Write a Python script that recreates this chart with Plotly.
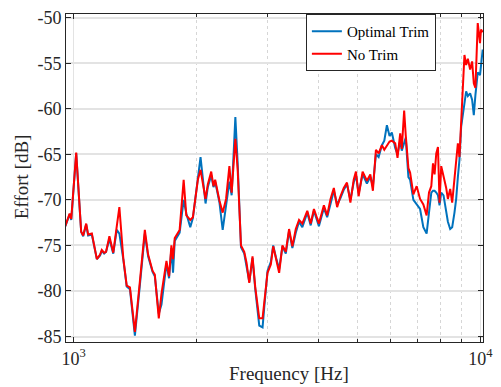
import plotly.graph_objects as go

freq_hz = [954, 978, 987, 1015, 1044, 1056, 1074, 1086, 1109, 1141, 1162, 1173, 1189, 1202, 1225, 1252,
           1277, 1296, 1325, 1351, 1376, 1415, 1456, 1497, 1525, 1564, 1584, 1620, 1645, 1692, 1717, 1740,
           1756, 1773, 1823, 1865, 1893, 1936, 1965, 2021, 2052, 2111, 2138, 2180, 2208, 2229, 2284, 2326,
           2371, 2416, 2447, 2499, 2532, 2580, 2628, 2662, 2704, 2754, 2797, 2861, 2915, 2943, 2998, 3055,
           3096, 3144, 3202, 3262, 3325, 3387, 3451, 3518, 3584, 3651, 3755, 3828, 3899, 4010, 4125, 4202,
           4283, 4364, 4446, 4531, 4616, 4701, 4793, 4883, 4946, 5022, 5136, 5262, 5365, 5444, 5538, 5623,
           5729, 5807, 5893, 5982, 6060, 6177, 6258, 6354, 6411, 6498, 6556, 6656, 6720, 6846, 6975, 7110,
           7243, 7379, 7479, 7577, 7650, 7719, 7793, 7868, 7939, 8015, 8120, 8244, 8323, 8432, 8528, 8639,
           8723, 8807, 8887, 8972, 9058, 9141, 9229, 9318, 9439, 9546, 9638, 9726, 9855, 9983, 10039, 10136]

no_trim_db = [-72.9, -71.5, -72.1, -64.8, -73.5, -73.9, -72.6, -73.8, -73.7, -76.5, -76.0, -75.5, -75.8, -75.7, -74.0, -75.8,
              -72.9, -70.8, -76.4, -79.4, -79.6, -84.5, -78.9, -73.3, -76.0, -77.8, -78.2, -83.0, -80.3, -76.7, -78.4, -75.0,
              -76.5, -74.2, -73.3, -67.8, -71.7, -72.2, -71.9, -67.8, -66.7, -69.9, -68.3, -66.9, -68.5, -67.8, -70.1, -71.4,
              -69.9, -66.3, -69.2, -63.3, -66.7, -75.0, -75.7, -76.9, -79.1, -76.2, -79.6, -83.0, -83.0, -81.2, -78.0, -77.1,
              -75.1, -76.4, -78.0, -75.0, -75.7, -73.2, -75.1, -73.2, -72.2, -72.6, -71.2, -72.6, -71.0, -72.6, -70.6, -71.7,
              -69.9, -68.7, -70.8, -69.6, -68.7, -68.1, -70.3, -67.8, -66.9, -69.6, -66.9, -67.9, -67.2, -69.0, -64.5, -64.9,
              -64.0, -64.5, -64.0, -63.6, -63.5, -63.8, -65.4, -62.7, -64.4, -60.2, -62.9, -66.5, -67.0, -69.4, -68.5, -69.9,
              -70.5, -71.7, -69.2, -68.5, -66.0, -67.2, -64.9, -64.2, -70.3, -66.3, -67.4, -68.7, -69.9, -68.8, -70.3, -67.8,
              -65.3, -63.8, -65.3, -60.6, -57.7, -54.1, -55.2, -54.5, -55.7, -54.8, -57.2, -57.7, -50.6, -52.8, -51.3, -51.6]

optimal_trim_db = [-72.9, -71.6, -72.2, -64.9, -73.5, -74.0, -72.7, -73.9, -73.8, -76.5, -76.1, -75.6, -75.9, -75.7, -74.3, -75.9,
                   -73.3, -73.7, -76.5, -79.5, -79.8, -84.9, -79.3, -73.7, -76.2, -77.9, -78.4, -82.5, -81.5, -77.0, -78.6, -75.3,
                   -78.0, -74.5, -73.6, -70.0, -71.5, -73.0, -72.0, -67.5, -65.3, -70.4, -68.6, -67.3, -68.6, -68.0, -70.3, -73.3,
                   -70.5, -68.0, -69.5, -60.9, -66.0, -75.2, -75.9, -77.2, -79.0, -76.4, -79.8, -83.8, -84.0, -81.8, -77.8, -76.8,
                   -75.0, -76.3, -77.6, -75.1, -75.9, -73.4, -75.3, -73.6, -72.4, -73.0, -71.4, -72.8, -71.2, -72.9, -70.9, -71.9,
                   -70.3, -69.0, -70.5, -69.8, -68.9, -68.3, -70.0, -68.1, -67.3, -69.3, -67.2, -68.2, -67.5, -68.5, -65.0, -65.3,
                   -64.0, -63.5, -61.8, -63.0, -62.6, -64.3, -65.0, -63.5, -64.6, -63.8, -63.2, -67.5, -67.8, -70.0, -70.5, -71.0,
                   -73.0, -73.7, -71.4, -69.2, -69.0, -69.0, -69.2, -69.5, -70.6, -69.2, -69.5, -71.4, -72.4, -73.2, -73.0, -71.4,
                   -69.9, -67.5, -65.6, -62.0, -60.6, -59.5, -58.1, -58.6, -58.3, -59.0, -60.7, -58.5, -56.0, -56.3, -55.2, -53.5]

y_ticks = [-85, -80, -75, -70, -65, -60, -55, -50]
x_ticks = [1000, 10000]
x_tick_text = ["10<sup>3</sup>", "10<sup>4</sup>"]
x_minor = [2000, 3000, 4000, 5000, 6000, 7000, 8000, 9000]

AX = "#262626"
FONT = "Liberation Serif"

fig = go.Figure()
fig.add_trace(go.Scatter(x=freq_hz, y=optimal_trim_db, mode="lines", name="Optimal Trim",
                         line=dict(color="#0072BD", width=2)))
fig.add_trace(go.Scatter(x=freq_hz, y=no_trim_db, mode="lines", name="No Trim",
                         line=dict(color="#FF0000", width=2)))

fig.update_layout(
    width=501, height=387,
    margin=dict(l=66, r=16, t=8, b=45),
    paper_bgcolor="white", plot_bgcolor="white",
    font=dict(family=FONT, color=AX, size=18),
    showlegend=True,
    legend=dict(x=0.887, y=1.0, xanchor="right", yanchor="top",
                bgcolor="white", bordercolor=AX, borderwidth=1,
                font=dict(size=15, family=FONT, color="black"),
                tracegroupgap=0, itemwidth=30),
    xaxis=dict(type="log", range=[2.9814, 4.0066],
               tickvals=x_ticks, ticktext=x_tick_text,
               ticks="inside", ticklen=5, tickcolor=AX,
               showline=True, linecolor=AX, linewidth=1, mirror="ticks",
               showgrid=True, gridcolor="#e3e3e3", gridwidth=1,
               zeroline=False,
               minor=dict(tickvals=x_minor, ticks="inside", ticklen=3, tickcolor=AX,
                          showgrid=True, gridcolor="#d6d6d6", griddash="dot", gridwidth=1),
               tickfont=dict(size=18, family=FONT, color=AX)),
    yaxis=dict(range=[-85.6, -49.6], tickvals=y_ticks,
               ticktext=[str(v) for v in y_ticks],
               ticks="inside", ticklen=5, tickcolor=AX,
               showline=True, linecolor=AX, linewidth=1, mirror="ticks",
               showgrid=True, gridcolor="#e3e3e3", gridwidth=1.5,
               zeroline=False,
               tickfont=dict(size=18, family=FONT, color=AX)),
    annotations=[
        dict(text="Frequency [Hz]", xref="paper", yref="paper", x=0.535, y=-0.095,
             xanchor="center", yanchor="middle", showarrow=False,
             font=dict(size=19, family=FONT, color=AX)),
        dict(text="Effort [dB]", xref="paper", yref="paper", x=-0.106, y=0.505,
             xanchor="center", yanchor="middle", showarrow=False, textangle=-90,
             font=dict(size=19, family=FONT, color=AX)),
    ],
)

fig.write_html("out.html")
